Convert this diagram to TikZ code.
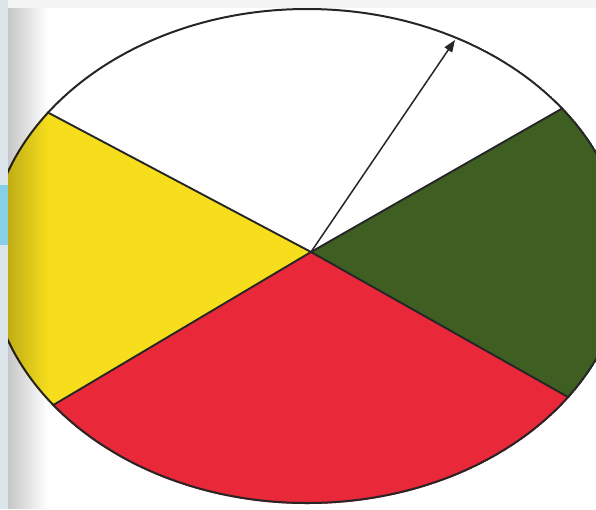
\documentclass[tikz,border=0pt]{standalone}
\usetikzlibrary{calc,arrows.meta,fadings}
\definecolor{spinyellow}{HTML}{F6DE1C}
\definecolor{spinred}{HTML}{E9283A}
\definecolor{spingreen}{HTML}{3E5E22}
\definecolor{pagegray}{HTML}{F4F4F4}
\definecolor{stripcol}{HTML}{DCE6EA}
\definecolor{stripcyan}{HTML}{86CFE6}
\tikzset{
  spoke/.style={line width=1.9pt, draw=black!85},
  rim/.style={line width=2pt, draw=black!85},
  pointer/.style={line width=1.5pt, draw=black!85, -{Triangle[length=12pt,width=9pt]}}
}
\begin{document}
\begin{tikzpicture}[x=1pt,y=-1pt]
\useasboundingbox (0,0) rectangle (596,509);
\fill[white] (0,0) rectangle (596,509);
\fill[pagegray] (0,0) rectangle (596,8);
\fill[stripcol] (0,0) rectangle (8,509);
\fill[stripcyan] (0,185) rectangle (8,245);
% named points
\coordinate (C) at (311,252);
\coordinate (E) at (307,256);
\coordinate (UL) at (47,112);
\coordinate (LL) at (50,407);
\coordinate (UR) at (563,108);
\coordinate (LR) at (568,397);
\coordinate (T) at (455,40);
\begin{scope}
  \clip (8,8) rectangle (596,509);
  \clip (E) ellipse [x radius=319pt, y radius=248pt];
  \fill[white] (C) -- ($(C)!3!(UL)$) -- (-900,-900) -- (1600,-900) -- ($(C)!3!(UR)$) -- cycle;
  \fill[spinyellow] (C) -- ($(C)!3!(UL)$) -- ($(C)!3!(LL)$) -- cycle;
  \fill[spingreen] (C) -- ($(C)!3!(UR)$) -- ($(C)!3!(LR)$) -- cycle;
  \fill[spinred] (C) -- ($(C)!3!(LL)$) -- (-900,1500) -- (1600,1500) -- ($(C)!3!(LR)$) -- cycle;
  \draw[spoke] (C) -- ($(C)!1.2!(UL)$);
  \draw[spoke] (C) -- ($(C)!1.2!(LL)$);
  \draw[spoke] (C) -- ($(C)!1.2!(UR)$);
  \draw[spoke] (C) -- ($(C)!1.2!(LR)$);
  \draw[rim] (E) ellipse [x radius=318pt, y radius=247pt];
\end{scope}
\fill[black, fill opacity=0.22, path fading=east] (8,8) rectangle (48,509);
\draw[pointer] (C) -- (T);
\end{tikzpicture}
\end{document}
